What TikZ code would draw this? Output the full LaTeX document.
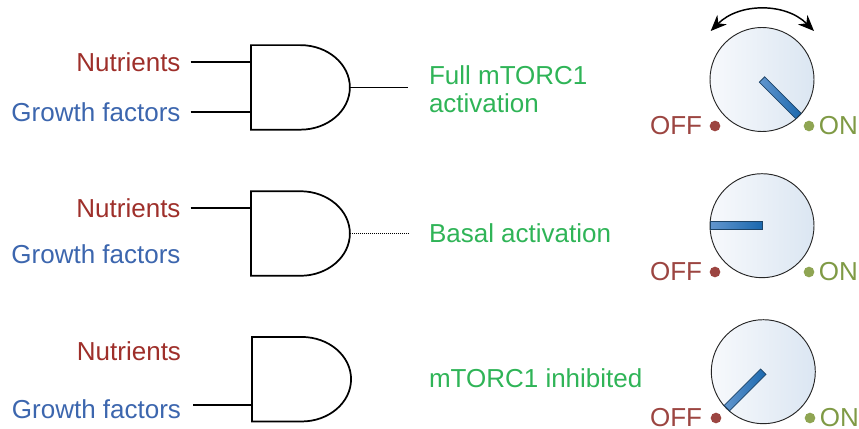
\documentclass[tikz,border=0pt]{standalone}
\usepackage{fontspec}
\setmainfont{Liberation Sans}
\usetikzlibrary{arrows.meta,positioning}

\definecolor{nutcol}{HTML}{9E2F2A}
\definecolor{growcol}{HTML}{3C66AE}
\definecolor{actcol}{HTML}{2FB457}
\definecolor{offcol}{HTML}{9C4541}
\definecolor{oncol}{HTML}{7F9A45}
\definecolor{ondot}{HTML}{8FA553}
\definecolor{knobl}{HTML}{F7F9FC}
\definecolor{knobr}{HTML}{DBE6F2}
\definecolor{ptrl}{HTML}{6296CE}
\definecolor{ptrr}{HTML}{1B68AE}
\definecolor{ptrline}{HTML}{1D4468}

\tikzset{
	lbl/.style={inner sep=0pt,font=\fontsize{19.5}{23}\selectfont,text height=18.5pt,text depth=4pt},
	swlbl/.style={inner sep=0pt,yshift=0.75pt,font=\fontsize{19.5}{23}\selectfont,text height=13.5pt,text depth=0pt},
	inlbl/.style={lbl,anchor=east,outer sep=7.5pt},
	actlbl/.style={inner sep=0pt,outer sep=15.75pt,anchor=west,align=left,text=actcol,font=\fontsize{19.5}{21}\selectfont},
	gatebox/.style={minimum width=74.25pt,minimum height=63.4pt,inner sep=0pt,outer sep=0pt},
	wire/.style={line width=1.3pt},
	knob/.style={circle,draw=black!85,line width=0.7pt,minimum size=78pt,inner sep=0pt,left color=knobl,right color=knobr},
	pointer/.style={draw=ptrline,line width=0.6pt,left color=ptrl,right color=ptrr},
	offdot/.style={circle,fill=offcol,minimum size=8pt,inner sep=0pt},
	ondotn/.style={circle,fill=ondot,minimum size=8pt,inner sep=0pt}
}

\begin{document}
\begin{tikzpicture}[x=0.75pt,y=-0.75pt]
	\useasboundingbox (0,0) rectangle (859,428);
	% Draw gates
	\node[gatebox] (gateA) at (300.4,87.4) {};
	\node[gatebox] (gateB) at (300.4,233.5) {};
	\node[gatebox] (gateC) at (301.6,379.2) {};
	\foreach \g in {gateA,gateB,gateC}
		\draw[wire] (\g.north west) -- ([xshift=37.1pt]\g.north west) arc (-90:90:49.5 and 42.27) -- (\g.south west) -- cycle;
	% Draw inputs
	\node[inlbl,text=nutcol] (nutA) at (190.5,61.7) {Nutrients};
	\node[inlbl,text=growcol] (growA) at (190.5,111.7) {Growth factors};
	\node[inlbl,text=nutcol] (nutB) at (190.5,207.7) {Nutrients};
	\node[inlbl,text=growcol] (growB) at (190.5,254) {Growth factors};
	\node[inlbl,text=nutcol] (nutC) at (191,351) {Nutrients};
	\node[inlbl,text=growcol] (growC) at (191,409) {Growth factors};
	\draw[wire] (nutA.east) -- (nutA.east -| gateA.west);
	\draw[wire] (growA.east) -- (growA.east -| gateA.west);
	\draw[wire] (nutB.east) -- (nutB.east -| gateB.west);
	\draw[wire] ([xshift=1.5pt,yshift=3pt]growC.east) -- ([yshift=3pt]growC.east -| gateC.west);
	% Draw outputs
	\node[actlbl] (actA) at (408,89) {Full mTORC1\\activation};
	\node[actlbl] (actB) at (408,233.5) {Basal activation};
	\node[actlbl] (actC) at (408,378) {mTORC1 inhibited};
	\draw[wire] (gateA.east) -- (gateA.east -| actA.west);
	\draw[densely dotted,line width=0.5pt] (gateB.east) -- (actB.west);
	% Draw knobs
	\node[knob] (knobA) at (762,79.5) {};
	\node[knob] (knobB) at (762,225.7) {};
	\node[knob] (knobC) at (763.3,371.7) {};
	\begin{scope}[shift={(knobA.center)}]
		\draw[pointer] (-45:3.8) -- ++(45:51.5) -- ++(135:7.6) -- ++(-135:51.5) -- cycle;
	\end{scope}
	\draw[pointer] ([yshift=3.1pt]knobB.center) rectangle ([xshift=-39pt,yshift=-3.1pt]knobB.center);
	\begin{scope}[shift={(knobC.center)}]
		\draw[pointer] (-135:3.8) -- ++(135:51.5) -- ++(45:7.6) -- ++(-45:51.5) -- cycle;
	\end{scope}
	% Draw swing arrow
	\coordinate (swingL) at (710.7,31);
	\coordinate (swingR) at (814,31);
	\draw[{Stealth[length=12pt,width=10pt]}-{Stealth[length=12pt,width=10pt]},line width=1.1pt] (swingL) to[bend left=45] (swingR);
	% Draw switch labels
	\foreach \k/\ky/\kx in {A/126/0,B/272/0,C/418/1}{
		\node[offdot] (off\k) at (715+\kx,\ky) {};
		\node[ondotn] (on\k) at (809+\kx,\ky) {};
		\node[swlbl,text=offcol,left=5.3pt+0.75pt*\kx of off\k] (offt\k) {OFF};
		\node[swlbl,text=oncol,right=3pt of on\k] (ont\k) {ON};
	}
\end{tikzpicture}
\end{document}
